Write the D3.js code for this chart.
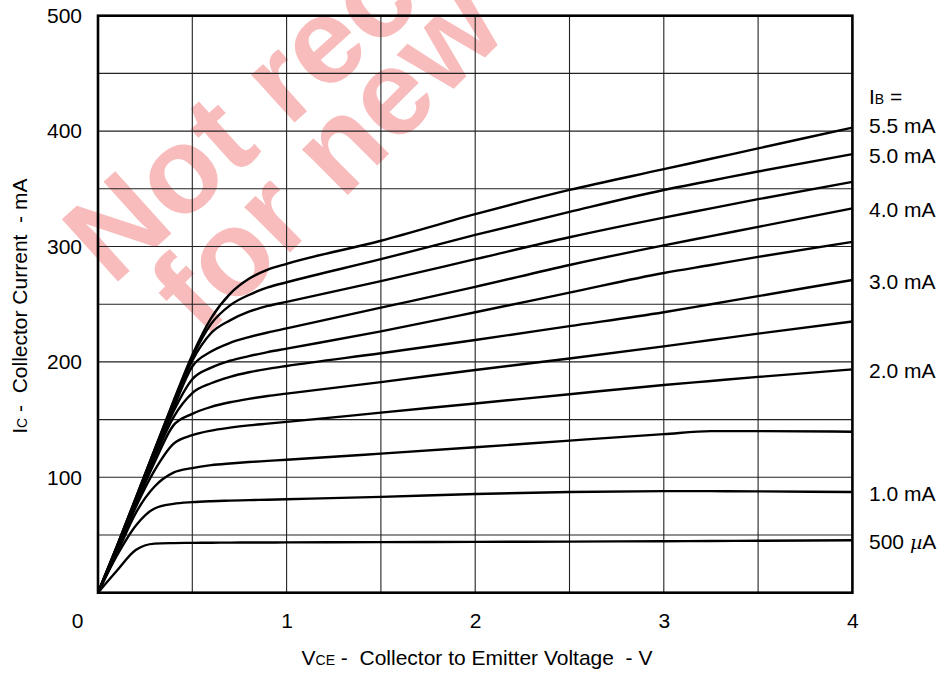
<!DOCTYPE html>
<html>
<head>
<meta charset="utf-8">
<script src="https://cdn.jsdelivr.net/npm/d3@7"></script>
<style>
  body { margin: 0; background: #fff; }
  svg { display: block; font-family: "Liberation Sans", Arial, sans-serif; }
</style>
</head>
<body>
<div id="chart"></div>
<script>
// collector-emitter voltage sample points (V)
const vce = [0, 0.1, 0.2, 0.3, 0.4, 0.5, 0.6, 0.7, 0.8, 0.9, 1.0, 1.5, 2.0, 2.5, 3.0, 3.25, 3.5, 4.0];

// collector current (mA) per base current
const ib0_5 = [0, 19, 37, 42.5, 43, 43.2, 43.3, 43.4, 43.5, 43.5, 43.6, 43.8, 44, 44.3, 44.6, 44.8, 45, 45.5];
const ib1_0 = [0, 32, 58, 73, 77, 78.5, 79.3, 79.8, 80.2, 80.6, 81, 83, 85.5, 87.3, 88, 88, 87.8, 87.3];
const ib1_5 = [0, 34, 69, 92, 104, 108, 110.5, 112, 113.2, 114.2, 115.2, 120.5, 126, 131.8, 137.4, 140, 140, 139.5];
const ib2_0 = [0, 36, 74, 106, 129, 136.5, 140.5, 143, 145, 146.5, 148, 156, 164, 172, 180, 183.5, 187, 193.5];
const ib2_5 = [0, 37, 76, 113, 145, 155, 161, 165, 168, 170.5, 172.5, 182.5, 193, 203, 213.5, 219, 224.5, 235];
const ib3_0 = [0, 38, 78, 117, 152, 173, 181.5, 187, 191, 194, 196.5, 207.5, 219, 231, 243, 250, 257, 271];
const ib3_5 = [0, 39, 79, 119, 157, 185, 195, 201, 205, 208.5, 211.5, 226.5, 243, 260, 277, 284, 291, 304];
const ib4_0 = [0, 39, 80, 121, 160, 196, 209, 216.5, 221.5, 225.5, 229, 247, 265, 284, 301, 309, 317, 333];
const ib4_5 = [0, 40, 81, 123, 163, 201, 225, 236, 243.5, 248.5, 252, 270, 289, 308, 325, 333, 341, 356];
const ib5_0 = [0, 40, 82, 124, 165, 204, 233, 249, 258, 264.5, 269, 289, 310, 330, 349, 357, 365, 380];
const ib5_5 = [0, 40, 82, 124, 166, 206, 238, 259, 272, 280, 285, 305, 328, 349, 367, 376, 385, 403];

const series = [ib0_5, ib1_0, ib1_5, ib2_0, ib2_5, ib3_0, ib3_5, ib4_0, ib4_5, ib5_0, ib5_5];
// right-hand labels, null = curve not labelled
const seriesLabels = ['500 µA', '1.0 mA', null, '2.0 mA', null, '3.0 mA', null, '4.0 mA', null, '5.0 mA', '5.5 mA'];

const xTickLabels = [0, 1, 2, 3, 4];
const yTickLabels = [100, 200, 300, 400, 500];
const xGrid = [0.5, 1, 1.5, 2, 2.5, 3, 3.5];
const yGrid = [50, 100, 150, 200, 250, 300, 350, 400, 450];

const width = 941, height = 674;
const grid = { left: 98, right: 852.4, top: 15.7, bottom: 592.7 };
const font = 21, subFont = 14;

function setNodeAttr(node, option, type = 'attr') {
  for (let i in option) node[type](i, option[i]);
  return node;
}

const svg = d3.select('#chart').append('svg')
  .attr('width', width)
  .attr('height', height);

const x = d3.scaleLinear().domain([0, 4]).range([grid.left, grid.right]);
const y = d3.scaleLinear().domain([0, 500]).range([grid.bottom, grid.top]);

// watermark
const mark = svg.append('g')
  .attr('transform', 'translate(112,287) rotate(-42)')
  .attr('fill', '#f9bcbc')
  .attr('font-weight', 'bold')
  .attr('font-size', 122);
mark.append('text').text('Not recommended');
mark.append('text').attr('transform', 'translate(32,100) rotate(-3)').text('for new designs');

// grid
svg.append('g')
  .selectAll('line')
  .data(xGrid)
  .join('line')
  .attr('x1', d => x(d)).attr('x2', d => x(d))
  .attr('y1', grid.top).attr('y2', grid.bottom)
  .attr('stroke', '#222').attr('stroke-width', 1.1);
svg.append('g')
  .selectAll('line')
  .data(yGrid)
  .join('line')
  .attr('y1', d => y(d)).attr('y2', d => y(d))
  .attr('x1', grid.left).attr('x2', grid.right)
  .attr('stroke', '#222').attr('stroke-width', 1.1);

// curves
const line = d3.line()
  .x((d, i) => x(vce[i]))
  .y(d => y(d))
  .curve(d3.curveMonotoneX);

svg.append('g')
  .selectAll('path')
  .data(series)
  .join('path')
  .attr('d', line)
  .attr('fill', 'none')
  .attr('stroke', '#000')
  .attr('stroke-width', 2.4)
  .attr('stroke-linejoin', 'round');

// frame
setNodeAttr(svg.append('rect'), {
  x: grid.left, y: grid.top,
  width: grid.right - grid.left, height: grid.bottom - grid.top,
  fill: 'none', stroke: '#000', 'stroke-width': 2.6
});

// tick labels
const xAxis = svg.append('g')
  .attr('transform', `translate(0,${grid.bottom})`)
  .call(d3.axisBottom(x).tickValues(xTickLabels).tickSize(0).tickPadding(20).tickFormat(d3.format('d')));
const yAxis = svg.append('g')
  .attr('transform', `translate(${grid.left},0)`)
  .call(d3.axisLeft(y).tickValues(yTickLabels).tickSize(0).tickPadding(16));
[xAxis, yAxis].forEach(a => {
  a.select('.domain').remove();
  a.selectAll('text').attr('font-size', font).attr('font-family', null).attr('fill', '#000');
});
xAxis.selectAll('.tick').filter(d => d === 0).select('text').attr('dx', -21);

// axis titles
const xTitle = svg.append('text')
  .attr('x', 477).attr('y', 665)
  .attr('text-anchor', 'middle')
  .attr('font-size', font)
  .style('white-space', 'pre');
xTitle.append('tspan').text('V');
xTitle.append('tspan').attr('font-size', subFont).text('CE');
xTitle.append('tspan').text(' -  Collector to Emitter Voltage  - V');

const yTitle = svg.append('text')
  .attr('transform', `translate(27,${(grid.top + grid.bottom) / 2 + 2}) rotate(-90)`)
  .attr('text-anchor', 'middle')
  .attr('font-size', font)
  .style('white-space', 'pre');
yTitle.append('tspan').text('I');
yTitle.append('tspan').attr('font-size', subFont).text('C');
yTitle.append('tspan').text(' -  Collector Current  - mA');

// base current labels
const labelX = 869;
const ibHead = svg.append('text')
  .attr('x', labelX)
  .attr('y', y(ib5_5[ib5_5.length - 1]) + 6 - 30)
  .attr('font-size', font);
ibHead.append('tspan').text('I');
ibHead.append('tspan').attr('font-size', subFont).text('B');
ibHead.append('tspan').text(' =');

series.forEach((s, i) => {
  const label = seriesLabels[i];
  if (!label) return;
  const t = svg.append('text')
    .attr('x', labelX)
    .attr('y', y(s[s.length - 1]) + (i === series.length - 1 ? 5 : 9))
    .attr('font-size', font);
  if (label.includes('µ')) {
    const [a, b] = label.split('µ');
    t.append('tspan').text(a);
    t.append('tspan').attr('font-style', 'italic').attr('font-family', 'DejaVu Serif, serif').attr('font-size', 19).text('µ');
    t.append('tspan').text(b);
  } else {
    t.text(label);
  }
});
</script>
</body>
</html>
